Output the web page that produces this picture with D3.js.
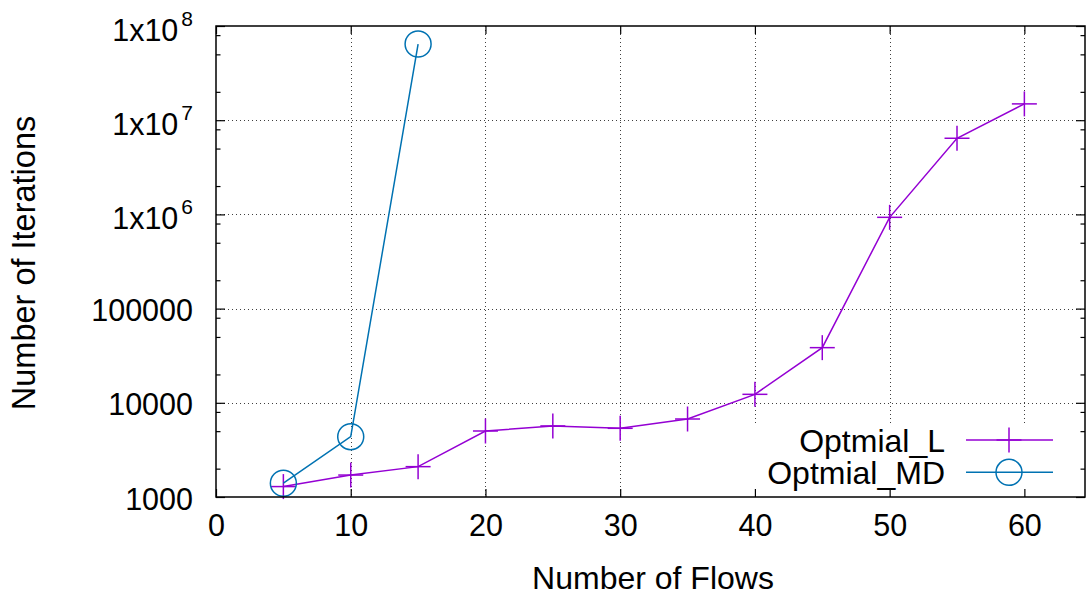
<!DOCTYPE html>
<html>
<head>
<meta charset="utf-8">
<script src="https://cdn.jsdelivr.net/npm/d3@7"></script>
<style>
  body { margin: 0; background: #fff; }
  text { font-family: "Liberation Sans", Arial, sans-serif; fill: #000; }
</style>
</head>
<body>
<div class="canvas"></div>
<script>
// data
const flows = [5, 10, 15, 20, 25, 30, 35, 40, 45, 50, 55, 60];
const optimalL = [1290, 1710, 2100, 5020, 5680, 5360, 6730, 12300, 38500, 931000, 6430000, 14900000];
const flowsMD = [5, 10, 15];
const optimalMD = [1400, 4370, 64400000];

const xTicks = [0, 10, 20, 30, 40, 50, 60];
const yTicks = [1e3, 1e4, 1e5, 1e6, 1e7, 1e8];
const yTickLabels = ['1000', '10000', '100000', '1x10|6', '1x10|7', '1x10|8'];
const minorSteps = [2, 5, 8];

const seriesNames = ['Optmial_L', 'Optmial_MD'];
const colors = ['#9400d3', '#0072b2'];

const W = 1089, H = 597;
const svg = d3.select('.canvas')
  .append('svg')
  .attr('width', W)
  .attr('height', H);

// plot box
const pLeft = 216, pRight = 1085, pTop = 26, pBottom = 497;
const tickFont = 30.5;

const x = d3.scaleLinear().domain([0, 64.5]).range([pLeft, pRight]);
const y = d3.scaleLog().domain([1e3, 1e8]).range([pBottom, pTop]);

const minorTicks = [];
yTicks.slice(0, -1).forEach(d => minorSteps.forEach(m => minorTicks.push(d * m)));

// grid
const grid = svg.append('g')
  .attr('stroke', '#000')
  .attr('stroke-width', 1)
  .attr('stroke-dasharray', '1,3')
  .attr('opacity', 0.75);
grid.selectAll('.gx').data(xTicks.slice(1)).enter().append('line')
  .attr('x1', d => Math.round(x(d)) + 0.5).attr('x2', d => Math.round(x(d)) + 0.5)
  .attr('y1', pTop).attr('y2', pBottom);
grid.selectAll('.gy').data(yTicks.slice(1, -1)).enter().append('line')
  .attr('y1', d => Math.round(y(d)) + 0.5).attr('y2', d => Math.round(y(d)) + 0.5)
  .attr('x1', pLeft).attr('x2', pRight);

// lines + markers
const line = d3.line().x(d => x(d[0])).y(d => y(d[1]));
const dataL = flows.map((f, i) => [f, optimalL[i]]);
const dataMD = flowsMD.map((f, i) => [f, optimalMD[i]]);

const plus = (g) => {
  g.append('line').attr('x1', -12.5).attr('x2', 12.5).attr('y1', 0).attr('y2', 0);
  g.append('line').attr('x1', 0).attr('x2', 0).attr('y1', -12.5).attr('y2', 12.5);
};

svg.append('path').datum(dataL)
  .attr('d', line).attr('fill', 'none')
  .attr('stroke', colors[0]).attr('stroke-width', 1.5);
svg.selectAll('.pl').data(dataL).enter().append('g')
  .attr('transform', d => `translate(${x(d[0])},${y(d[1])})`)
  .attr('stroke', colors[0]).attr('stroke-width', 1.5)
  .each(function() { plus(d3.select(this)); });

svg.append('path').datum(dataMD)
  .attr('d', line).attr('fill', 'none')
  .attr('stroke', colors[1]).attr('stroke-width', 1.5);
svg.selectAll('.pm').data(dataMD).enter().append('circle')
  .attr('cx', d => x(d[0])).attr('cy', d => y(d[1])).attr('r', 13)
  .attr('fill', 'none').attr('stroke', colors[1]).attr('stroke-width', 1.5);

// legend (opaque)
const legend = svg.append('g');
legend.append('rect')
  .attr('x', 750).attr('y', 423).attr('width', pRight - 750).attr('height', pBottom - 423)
  .attr('fill', '#fff');
seriesNames.forEach((name, i) => {
  const ly = 440 + i * 32.3;
  legend.append('text')
    .attr('x', 945).attr('y', ly + 11.5)
    .attr('text-anchor', 'end')
    .attr('font-size', 32)
    .text(name);
  legend.append('line')
    .attr('x1', 966).attr('x2', 1053).attr('y1', ly).attr('y2', ly)
    .attr('stroke', colors[i]).attr('stroke-width', 1.5);
  const m = legend.append('g').attr('transform', `translate(1009,${ly})`)
    .attr('stroke', colors[i]).attr('stroke-width', 1.5);
  if (i === 0) plus(m);
  else m.append('circle').attr('r', 13).attr('fill', 'none');
});

// axes with inward ticks
const xAxis = d3.axisBottom(x).tickValues(xTicks).tickSize(-8).tickSizeOuter(0).tickPadding(17);
const xAxisTop = d3.axisTop(x).tickValues(xTicks).tickSize(-8).tickSizeOuter(0).tickFormat('');
const yAxis = d3.axisLeft(y).tickValues(yTicks).tickSize(-9).tickSizeOuter(0).tickPadding(23).tickFormat('');
const yAxisR = d3.axisRight(y).tickValues(yTicks).tickSize(-9).tickSizeOuter(0).tickFormat('');
const yMinor = d3.axisLeft(y).tickValues(minorTicks).tickSize(-4.5).tickSizeOuter(0).tickFormat('');
const yMinorR = d3.axisRight(y).tickValues(minorTicks).tickSize(-4.5).tickSizeOuter(0).tickFormat('');

const gx = svg.append('g').attr('transform', `translate(0,${pBottom})`).call(xAxis);
svg.append('g').attr('transform', `translate(0,${pTop})`).call(xAxisTop);
const gy = svg.append('g').attr('transform', `translate(${pLeft},0)`).call(yAxis);
svg.append('g').attr('transform', `translate(${pRight},0)`).call(yAxisR);
svg.append('g').attr('transform', `translate(${pLeft},0)`).call(yMinor);
svg.append('g').attr('transform', `translate(${pRight},0)`).call(yMinorR);

svg.selectAll('.domain').remove();
svg.selectAll('.tick line').attr('stroke', '#000').attr('stroke-width', 1.2);

gx.selectAll('text').attr('font-size', tickFont).attr('font-family', '"Liberation Sans", Arial, sans-serif');

// y tick labels, with superscripts
gy.selectAll('.tick').each(function(d, i) {
  const parts = yTickLabels[i].split('|');
  const t = d3.select(this).select('text')
    .attr('font-size', tickFont)
    .attr('font-family', '"Liberation Sans", Arial, sans-serif')
    .attr('x', -23)
    .attr('dy', parts.length > 1 ? 14.5 : 12);
  t.append('tspan').text(parts[0]);
  if (parts.length > 1) {
    t.append('tspan').attr('dx', 3).attr('dy', -15).attr('font-size', 21).text(parts[1]);
  }
});

// frame
svg.append('rect')
  .attr('x', pLeft).attr('y', pTop).attr('width', pRight - pLeft).attr('height', pBottom - pTop)
  .attr('fill', 'none').attr('stroke', '#000').attr('stroke-width', 1.5);

// axis titles
svg.append('text')
  .attr('x', 653).attr('y', 589)
  .attr('text-anchor', 'middle').attr('font-size', 32)
  .text('Number of Flows');
svg.append('text')
  .attr('transform', 'translate(35,263) rotate(-90)')
  .attr('text-anchor', 'middle').attr('font-size', 32.5)
  .text('Number of Iterations');
</script>
</body>
</html>
